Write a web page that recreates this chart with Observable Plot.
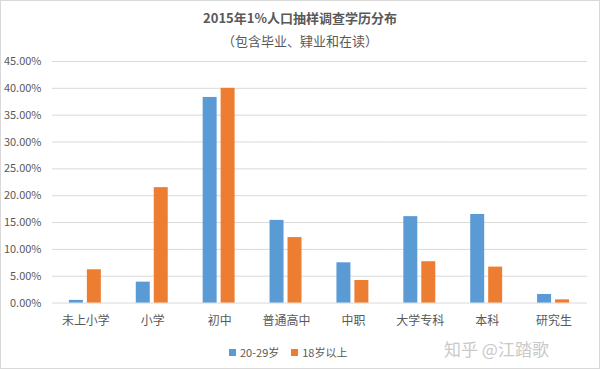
<!DOCTYPE html>
<html><head><meta charset="utf-8">
<script src="https://cdn.jsdelivr.net/npm/d3@7"></script>
<script src="https://cdn.jsdelivr.net/npm/@observablehq/plot@0.6"></script>
<style>
body{margin:0;background:#fff;font-family:"Noto Sans CJK SC","Noto Sans",sans-serif;}
#wrap{position:relative;width:598px;height:367px;overflow:hidden;border:1px solid #d9d9d9;background:#fff;}
.t{position:absolute;left:0;width:598px;text-align:center;color:#595959;white-space:nowrap;}
#title{top:7px;font-size:13px;font-weight:bold;}
#sub{top:30px;font-size:13px;}
#chart{position:absolute;left:-1px;top:49px;}
#legend{position:absolute;top:343px;left:228px;font-size:11px;color:#595959;display:flex;align-items:center;white-space:nowrap;}
.sw{display:inline-block;width:7px;height:7px;margin-right:4px;}
#wm{position:absolute;left:443px;top:335px;font-size:17px;color:#c9c9c9;white-space:nowrap;}
</style></head>
<body>
<div id="wrap">
  <div id="title" class="t"></div>
  <div id="sub" class="t"></div>
  <div id="chart"></div>
  <div id="legend"></div>
  <div id="wm">知乎 @江踏歌</div>
</div>
<script>
const titleText = "2015年1%人口抽样调查学历分布";
const subtitleText = "（包含毕业、肄业和在读）";
const categories = ["未上小学","小学","初中","普通高中","中职","大学专科","本科","研究生"];
const series = ["20-29岁","18岁以上"];
const age2029 = [0.5, 3.9, 38.3, 15.4, 7.5, 16.1, 16.5, 1.6];
const over18  = [6.2, 21.5, 40.0, 12.2, 4.2, 7.7, 6.7, 0.6];
const yTicks = [0,5,10,15,20,25,30,35,40,45];
const colors = ["#5B9BD5","#ED7D31"];

document.getElementById("title").textContent = titleText;
document.getElementById("sub").textContent = subtitleText;

const data = [];
categories.forEach((c,i)=>{
  data.push({cat:c, series:series[0], value:age2029[i]});
  data.push({cat:c, series:series[1], value:over18[i]});
});

const chart = Plot.plot({
  width:600, height:285,
  marginTop:11, marginBottom:32, marginLeft:52, marginRight:12,
  style:{fontFamily:'"Noto Sans CJK SC","Noto Sans",sans-serif', fontSize:"11px", color:"#595959", background:"transparent"},
  fx:{domain:categories, padding:0, label:null},
  x:{domain:series, paddingInner:0.21, paddingOuter:0.87, axis:null},
  y:{domain:[0,45], label:null},
  color:{domain:series, range:colors},
  marks:[
    Plot.gridY(yTicks, {stroke:"#d9d9d9", strokeOpacity:1}),
    Plot.axisY(yTicks, {tickSize:0, tickPadding:11, tickFormat:d=>d.toFixed(2)+"%", label:null, fill:"#595959"}),
    Plot.axisFx({anchor:"bottom", tickSize:0, tickPadding:13, fontSize:12, label:null, fill:"#595959"}),
    Plot.barY(data, {fx:"cat", x:"series", y:"value", fill:"series"})
  ]
});
document.getElementById("chart").appendChild(chart);

const lg = document.getElementById("legend");
series.forEach((s,i)=>{
  const sw = document.createElement("span");
  sw.className="sw"; sw.style.background=colors[i];
  if(i>0) sw.style.marginLeft="12px";
  lg.appendChild(sw);
  const tx = document.createElement("span");
  tx.textContent = s;
  lg.appendChild(tx);
});
</script>
</body></html>
